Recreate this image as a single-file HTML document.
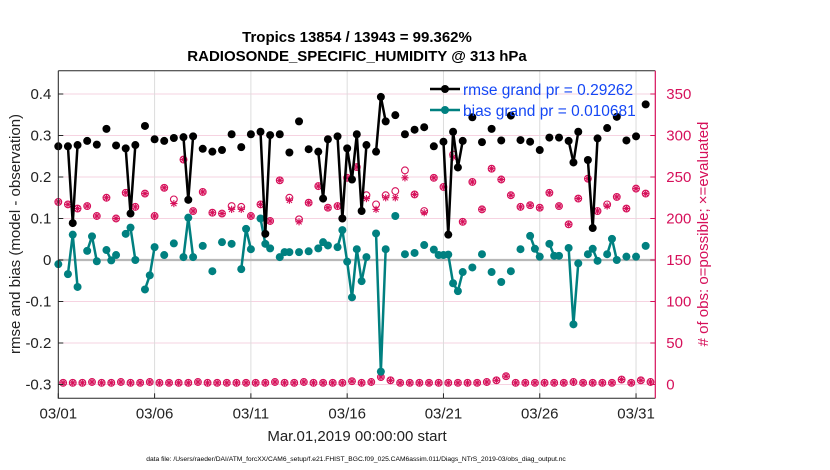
<!DOCTYPE html>
<html><head><meta charset="utf-8">
<style>
body{margin:0;background:#fff;}
svg{display:block;font-family:"Liberation Sans",sans-serif;}
</style></head>
<body>
<svg id="chart" width="830" height="470" viewBox="0 0 830 470">
<rect x="0" y="0" width="830" height="470" fill="#fff"/>
<text x="357" y="42" text-anchor="middle" font-size="15" font-weight="bold" fill="#000">Tropics 13854 / 13943 = 99.362%</text>
<text x="357" y="61" text-anchor="middle" font-size="15" font-weight="bold" fill="#000">RADIOSONDE_SPECIFIC_HUMIDITY @ 313 hPa</text>
<g id="grid"></g>
<g id="marks"></g>
<g id="axes"></g>
<text x="0" y="0" transform="translate(20,234) rotate(-90)" text-anchor="middle" font-size="15" fill="#222">rmse and bias (model - observation)</text>
<text x="0" y="0" transform="translate(708,234) rotate(-90)" text-anchor="middle" font-size="15" fill="#d6105a"># of obs: o=possible; ×=evaluated</text>
<text x="357" y="441" text-anchor="middle" font-size="15" fill="#222">Mar.01,2019 00:00:00 start</text>
<text x="356" y="461" text-anchor="middle" font-size="6.7" fill="#000">data file: /Users/raeder/DAI/ATM_forcXX/CAM6_setup/f.e21.FHIST_BGC.f09_025.CAM6assim.011/Diags_NTrS_2019-03/obs_diag_output.nc</text>
<g>
<line x1="430" y1="89" x2="460" y2="89" stroke="#000" stroke-width="2.5"/>
<circle cx="445" cy="89" r="4" fill="#000"/>
<text x="463" y="95" font-size="15.5" fill="#1447f5">rmse grand pr = 0.29262</text>
<line x1="430" y1="110" x2="460" y2="110" stroke="#008080" stroke-width="2.5"/>
<circle cx="445" cy="110" r="4" fill="#008080"/>
<text x="463" y="116" font-size="15.5" fill="#1447f5">bias grand pr = 0.010681</text>
</g>
</svg>
<script>
const rmseT=[0,0.5,0.75,1,1.5,2,2.5,3,3.5,3.75,4,4.5,5,5.5,6,6.5,6.75,7,7.5,8,8.5,9,9.5,10,10.5,10.75,11,11.5,12,12.5,13,13.5,13.75,14,14.5,14.75,15,15.25,15.5,15.75,16,16.5,16.75,17,17.5,18,18.5,19,19.5,20,20.25,20.5,20.75,21,21.5,22,22.5,23,23.5,24,24.5,25,25.5,26,26.5,26.75,27,27.5,27.75,28,28.5,29,29.5,30,30.5];
const rmseV=[0.274,0.274,0.089,0.277,0.287,0.278,0.316,0.276,0.269,0.112,0.277,0.323,0.291,0.287,0.294,0.296,0.145,0.298,0.268,0.261,0.265,0.303,0.272,0.303,0.309,0.063,0.301,0.303,0.259,0.334,0.267,0.261,0.148,0.291,0.298,0.100,0.269,0.194,0.303,0.118,0.277,0.261,0.393,0.334,0.349,0.303,0.314,0.320,0.274,0.285,0.061,0.309,0.223,0.287,0.344,0.284,0.316,0.288,0.348,0.289,0.285,0.265,0.295,0.295,0.287,0.235,0.309,0.241,0.077,0.293,0.318,0.345,0.288,0.298,0.375];
const biasT=[0,0.5,0.75,1,1.5,1.75,2,2.5,2.75,3,3.5,3.75,4,4.5,4.75,5,5.5,6,6.5,6.75,7,7.5,8,8.5,9,9.5,9.75,10,10.5,10.75,11,11.5,11.75,12,12.5,13,13.5,13.75,14,14.5,14.75,15,15.25,15.5,15.75,16,16.5,16.75,17,17.5,18,18.5,19,19.5,19.75,20,20.25,20.5,20.75,21,21.5,22,22.5,23,23.5,24,24.5,24.75,25,25.5,25.75,26,26.5,26.75,27,27.5,27.75,28,28.5,28.75,29,29.5,30,30.5];
const biasV=[-0.010,-0.034,0.061,-0.065,0.022,0.057,-0.003,0.024,-0.001,0.012,0.063,0.078,0.000,-0.071,-0.037,0.031,0.012,0.040,0.007,0.102,0.007,0.034,-0.027,0.043,0.039,-0.022,0.075,0.026,0.100,0.039,0.028,0.007,0.019,0.019,0.019,0.021,0.028,0.043,0.035,0.031,0.072,-0.004,-0.090,0.026,-0.051,0.007,0.064,-0.269,0.026,0.106,0.014,0.017,0.036,0.025,0.012,0.012,0.013,-0.056,-0.075,-0.029,-0.018,0.014,-0.029,-0.053,-0.027,0.026,0.058,0.027,0.008,0.039,0.010,0.010,0.029,-0.155,-0.008,0.014,0.027,-0.002,0.014,0.051,0.000,0.008,0.008,0.034];
const obsT=[0,0.5,1,1.5,2,2.5,3,3.5,4,4.5,5,5.5,6,6.5,7,7.5,8,8.5,9,9.5,10,10.5,11,11.5,12,12.5,13,13.5,14,14.5,15,15.5,16,16.5,17,17.5,18,18.5,19,19.5,20,20.5,21,21.5,22,22.5,23,23.5,24,24.5,25,25.5,26,26.5,27,27.5,28,28.5,29,29.5,30,30.5];
const obsPossible=[220,217,212,215,203,225,200,231,214,230,203,237,223,271,209,232,207,206,215,214,203,217,197,246,225,199,219,239,213,215,249,262,228,217,228,233,258,229,209,249,238,277,196,244,211,260,247,228,214,216,213,231,215,193,224,248,209,217,226,212,236,230];
const obsEvaluated=[220,217,212,215,203,225,200,231,214,230,203,237,218,271,209,232,207,206,211,211,203,217,197,246,222,196,219,239,213,215,249,262,224,211,225,225,249,229,207,249,238,274,196,244,211,260,247,228,214,216,213,231,215,193,224,248,209,215,226,212,236,230];
const lowT=[0.25,0.75,1.25,1.75,2.25,2.75,3.25,3.75,4.25,4.75,5.25,5.75,6.25,6.75,7.25,7.75,8.25,8.75,9.25,9.75,10.25,10.75,11.25,11.75,12.25,12.75,13.25,13.75,14.25,14.75,15.25,15.75,16.25,16.75,17.25,17.75,18.25,18.75,19.25,19.75,20.25,20.75,21.25,21.75,22.25,22.75,23.25,23.75,24.25,24.75,25.25,25.75,26.25,26.75,27.25,27.75,28.25,28.75,29.25,29.75,30.25,30.75];
const lowV=[2,2,2,3,2,2,3,2,2,3,2,2,2,2,3,2,2,2,2,2,2,2,3,2,2,3,2,2,2,2,4,2,3,9,5,2,2,2,2,2,2,2,2,2,3,5,10,2,2,2,2,2,2,3,2,2,2,2,6,2,5,3,2,2,2,2];
const xTicks=[0,5,10,15,20,25,30];
const xTickLabels=["03/01","03/06","03/11","03/16","03/21","03/26","03/31"];
const yTicks=[0.4,0.3,0.2,0.1,0,-0.1,-0.2,-0.3];
const yTickLabels=["0.4","0.3","0.2","0.1","0","-0.1","-0.2","-0.3"];
const y2Ticks=[0,50,100,150,200,250,300,350];

const L=58.3,R=655.3,T=70.7,B=398.3;
const xMin=0,xMax=31;
function X(t){return L+(t-xMin)/(xMax-xMin)*(R-L);}
function Y(v){return 260-415*v;}
function Y2(n){return 384.5-0.8300*n;}
const NS="http://www.w3.org/2000/svg";
function mk(tag,attrs,parent){const e=document.createElementNS(NS,tag);for(const k in attrs)e.setAttribute(k,attrs[k]);parent.appendChild(e);return e;}
const grid=document.getElementById('grid'),marks=document.getElementById('marks'),axes=document.getElementById('axes');

yTicks.forEach(v=>{const g=mk('line',{x1:L,x2:R,y1:Y(v),y2:Y(v),stroke:'#f6d3e1','stroke-width':1},grid);

});
xTicks.forEach(t=>{const g=mk('line',{x1:X(t),x2:X(t),y1:T,y2:B,stroke:'#dcdcdc','stroke-width':1},grid);

});
const zl=mk('line',{x1:L,x2:R,y1:Y(0),y2:Y(0),stroke:'#b8b8b8','stroke-width':2.2},grid);



function asterisk(cx,cy,s,parent){const g=mk('g',{stroke:'#d6105a','stroke-width':1.1},parent);
mk('line',{x1:cx-s,x2:cx+s,y1:cy,y2:cy},g);mk('line',{x1:cx,x2:cx,y1:cy-s,y2:cy+s},g);
const d=s*0.72;mk('line',{x1:cx-d,x2:cx+d,y1:cy-d,y2:cy+d},g);mk('line',{x1:cx-d,x2:cx+d,y1:cy+d,y2:cy-d},g);return g;}

const og=mk('g',{},marks);


obsT.forEach((t,i)=>{
 const c=mk('circle',{cx:X(t),cy:Y2(obsPossible[i]),r:3.4,fill:'none',stroke:'#d6105a','stroke-width':1.1},og);
 
 
 const a=asterisk(X(t),Y2(obsEvaluated[i]),3.6,og);
 
 
});
lowT.forEach((t,i)=>{
 const c=mk('circle',{cx:X(t),cy:Y2(lowV[i]),r:3.4,fill:'none',stroke:'#d6105a','stroke-width':1.1},og);
 
 
 const a=asterisk(X(t),Y2(lowV[i]),3.6,og);
 
 
});

function series(T_,V,color,name){
 const g=mk('g',{},marks);
 
 
 for(let i=1;i<T_.length;i++){
  if(T_[i]-T_[i-1]<=0.26){
   const l=mk('line',{x1:X(T_[i-1]),y1:Y(V[i-1]),x2:X(T_[i]),y2:Y(V[i]),stroke:color,'stroke-width':2.5,'stroke-linecap':'round'},g);
   
   
  }
 }
 T_.forEach((t,i)=>{
  const c=mk('circle',{cx:X(t),cy:Y(V[i]),r:4,fill:color},g);
  
  
 });
}
series(biasT,biasV,'#008080','bias');
series(rmseT,rmseV,'#000','rmse');

const f=mk('path',{d:`M${L},${T}H${R}M${L},${T}V${B}H${R}`,fill:'none',stroke:'#262626','stroke-width':1},axes);


const ra=mk('line',{x1:R,x2:R,y1:T,y2:B,stroke:'#d6105a','stroke-width':1.2},axes);


xTicks.forEach((t,i)=>{
 mk('line',{x1:X(t),x2:X(t),y1:B,y2:B-5,stroke:'#262626'},axes);
 const tx=mk('text',{x:X(t),y:B+20,'text-anchor':'middle','font-size':15,fill:'#222'},axes);
 tx.textContent=xTickLabels[i];
 
 
});
yTicks.forEach((v,i)=>{
 mk('line',{x1:L,x2:L+5,y1:Y(v),y2:Y(v),stroke:'#262626'},axes);
 const tx=mk('text',{x:L-7,y:Y(v)+5,'text-anchor':'end','font-size':15,fill:'#222'},axes);
 tx.textContent=yTickLabels[i];
 
 
});
y2Ticks.forEach(n=>{
 mk('line',{x1:R,x2:R-5,y1:Y2(n),y2:Y2(n),stroke:'#d6105a'},axes);
 const tx=mk('text',{x:R+11,y:Y2(n)+5,'text-anchor':'start','font-size':15,fill:'#d6105a'},axes);
 tx.textContent=String(n);
 
 
});
</script>
</body></html>
